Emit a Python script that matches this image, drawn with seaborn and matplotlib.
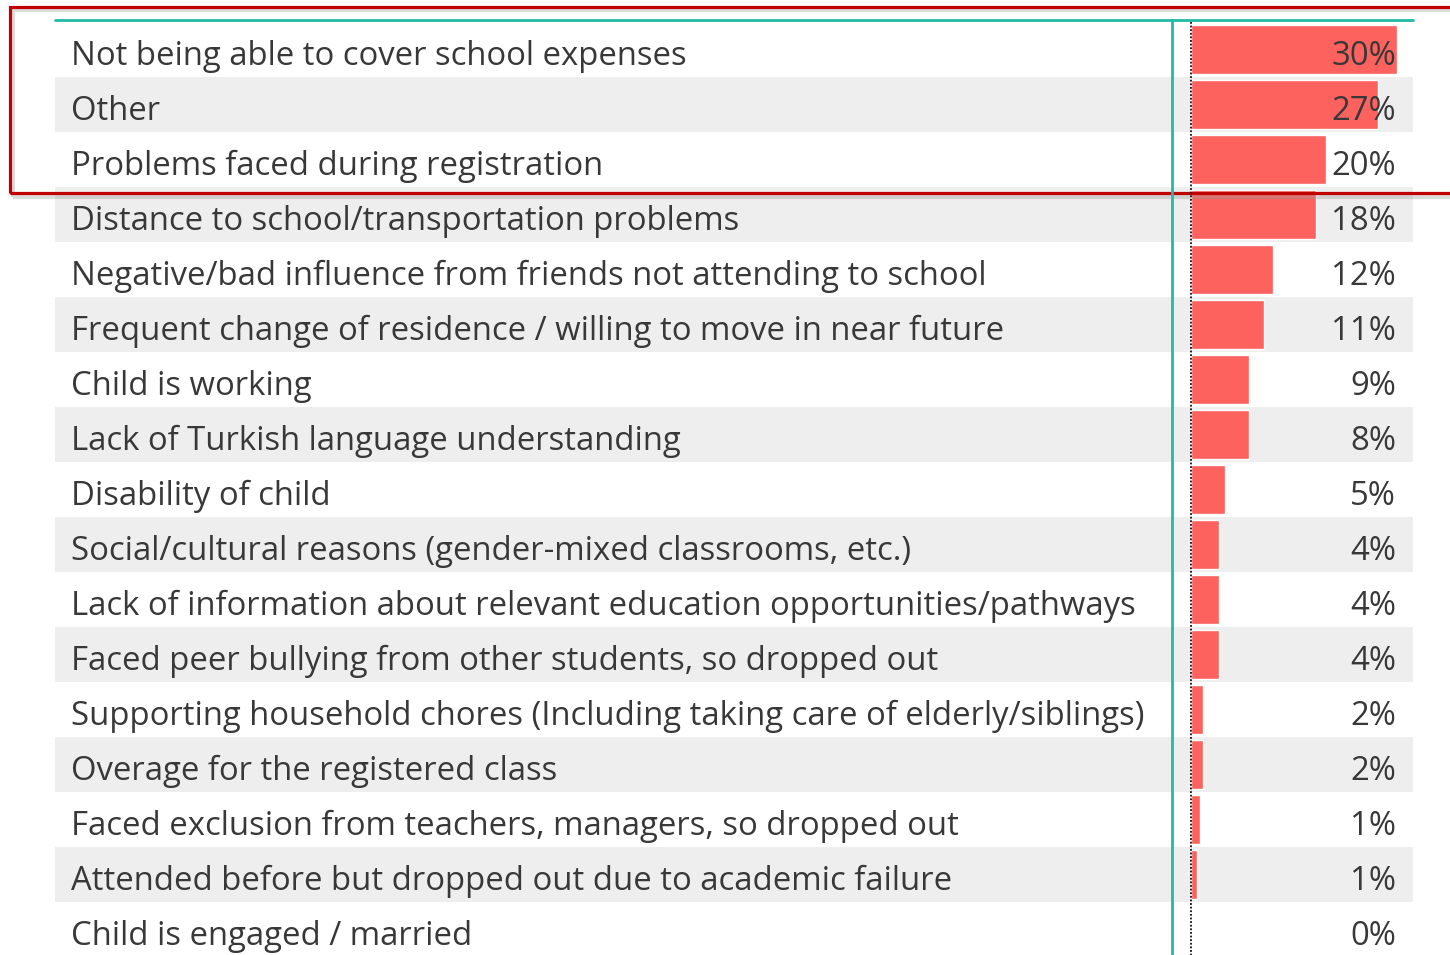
# Reasons for not attending school - table with data bars

import pandas as pd
import matplotlib.pyplot as plt
import seaborn as sns
from matplotlib.patches import Rectangle
from matplotlib.lines import Line2D
from matplotlib.transforms import blended_transform_factory

# ---------------------------
# Data
# ---------------------------

reasons = [
    "Not being able to cover school expenses",
    "Other",
    "Problems faced during registration",
    "Distance to school/transportation problems",
    "Negative/bad influence from friends not attending to school",
    "Frequent change of residence / willing to move in near future",
    "Child is working",
    "Lack of Turkish language understanding",
    "Disability of child",
    "Social/cultural reasons (gender-mixed classrooms, etc.)",
    "Lack of information about relevant education opportunities/pathways",
    "Faced peer bullying from other students, so dropped out",
    "Supporting household chores (Including taking care of elderly/siblings)",
    "Overage for the registered class",
    "Faced exclusion from teachers, managers, so dropped out",
    "Attended before but dropped out due to academic failure",
    "Child is engaged / married",
]

# shares in %
shares = [30.0, 27.2, 19.6, 18.2, 11.9, 10.6, 8.5, 8.4, 4.9, 4.1, 4.1, 4.1, 1.7, 1.7, 1.3, 0.9, 0.0]

share_labels = ["30%", "27%", "20%", "18%", "12%", "11%", "9%", "8%", "5%",
                "4%", "4%", "4%", "2%", "2%", "1%", "1%", "0%"]

df = pd.DataFrame({"reason": reasons, "share": shares})

# ---------------------------
# Style
# ---------------------------

sns.set_theme(style="white")
plt.rcParams["font.family"] = ["Open Sans", "DejaVu Sans"]

TEXT = "#383838"
BAND = "#eeeeee"
BAR = "#fd625e"
TEAL = "#22b8aa"
FS = 23.7

W, H = 1450, 955
fig = plt.figure(figsize=(14.5, 9.55), dpi=100)
fig.patch.set_facecolor("white")


def fx(px):
    return px / W


def fy(py):
    return 1 - py / H


n = len(reasons)
top, pitch = 22, 55
bottom = top + n * pitch

# ---------------------------
# Table background and labels
# ---------------------------

ax_tab = fig.add_axes([fx(55), fy(bottom), fx(1413) - fx(55), (bottom - top) / H])
ax_tab.set_xlim(0, 1)
ax_tab.set_ylim(n - 0.5, -0.5)
for i in range(1, n, 2):
    ax_tab.axhspan(i - 0.5, i + 0.5, color=BAND, lw=0)
tr_tab = blended_transform_factory(fig.transFigure, ax_tab.transData)
for i, r in enumerate(reasons):
    ax_tab.text(fx(71), i + 0.28, r, transform=tr_tab, ha="left", va="baseline",
                fontsize=FS, color=TEXT)
ax_tab.axis("off")

# ---------------------------
# Data bars
# ---------------------------

ax_bar = fig.add_axes([fx(1191), fy(bottom), fx(1413) - fx(1191), (bottom - top) / H])
sns.barplot(data=df, x="share", y="reason", color=BAR, saturation=1,
            width=0.88, ax=ax_bar)
ax_bar.set_xlim(0, 30 * (1413 - 1191) / 206)
ax_bar.set_ylim(n - 0.5, -0.5)
ax_bar.patch.set_alpha(0)
ax_bar.axis("off")
tr_bar = blended_transform_factory(fig.transFigure, ax_bar.transData)
for i, lab in enumerate(share_labels):
    ax_bar.text(fx(1396), i + 0.28, lab, transform=tr_bar, ha="right", va="baseline",
                fontsize=FS, color=TEXT)

# ---------------------------
# Grid lines and highlight box
# ---------------------------

fig.add_artist(Line2D([fx(55), fx(1413)], [fy(20), fy(20)], color=TEAL, lw=2))
fig.add_artist(Line2D([fx(1172), fx(1172)], [fy(20), 0], color=TEAL, lw=2))
fig.add_artist(Line2D([fx(1190.5), fx(1190.5)], [fy(22), 0], color="#111111",
                      lw=1.3, linestyle=(0, (1, 1))))

fig.add_artist(Rectangle((fx(13), fy(197)), fx(1460) - fx(13), fy(10) - fy(197),
                         fill=False, edgecolor="#999999", lw=3, alpha=0.35))
fig.add_artist(Rectangle((fx(10), fy(193)), fx(1460) - fx(10), fy(7) - fy(193),
                         fill=False, edgecolor="#c00000", lw=2.3))

fig.savefig("out.png", dpi=100)
